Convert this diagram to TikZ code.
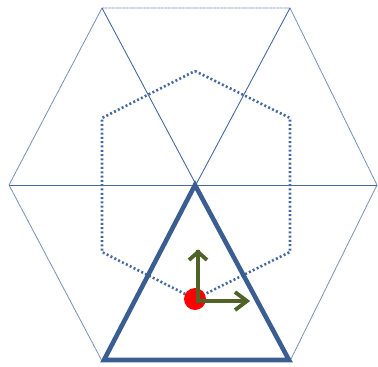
\documentclass[tikz,border=0pt]{standalone}
\usetikzlibrary{arrows.meta}
\definecolor{hexblue}{RGB}{70,105,160}
\definecolor{triblue}{RGB}{59,94,146}
\definecolor{olive}{RGB}{79,98,40}
\tikzset{
  thinline/.style={hexblue, line width=0.9pt},
  outerhex/.style={hexblue!75, line width=0.9pt, dash pattern=on 1pt off 0.4pt},
  innerhex/.style={hexblue, line width=2.6pt, dash pattern=on 2pt off 2.3pt},
  thicktri/.style={triblue, line width=4.6pt, line join=miter},
  axisline/.style={olive, line width=3.8pt},
  axishead/.style={olive, line width=3.8pt, line join=miter, miter limit=10}
}
\begin{document}
\begin{tikzpicture}[x=1pt,y=-1pt]
\useasboundingbox (0,0) rectangle (378,367);
% outer hexagon vertices
\coordinate (A) at (102,8);
\coordinate (B) at (290,8);
\coordinate (C) at (377,185);
\coordinate (D) at (290,361);
\coordinate (E) at (102,361);
\coordinate (F) at (9,185);
\coordinate (O) at (195,185);
% inner hexagon
\coordinate (i1) at (195,71);
\coordinate (i2) at (290,118);
\coordinate (i3) at (290,252);
\coordinate (i4) at (195,299);
\coordinate (i5) at (102,252);
\coordinate (i6) at (102,118);
\draw[outerhex] (A) -- (B) -- (C) -- (D) -- (E) -- (F) -- cycle;
\draw[thinline] (A) -- (D);
\draw[thinline] (B) -- (E);
\draw[thinline] (F) -- (C);
\draw[innerhex] (i1) -- (i2) -- (i3) -- (i4) -- (i5) -- (i6) -- cycle;
\draw[thicktri] (O) -- (104,360) -- (289,360) -- cycle;
% origin
\coordinate (P) at (195,299);
\fill[red] (P) circle[radius=11];
\coordinate (Q) at (198,301);
\coordinate (Qu) at (198,250);
\coordinate (Qr) at (245,301);
\draw[axisline] ([yshift=1.9]Q) -- (Qu);
\draw[axisline] ([xshift=-1.9]Q) -- (Qr);
\draw[axishead] ([shift={(-9,10)}]Qu) -- ([yshift=-2]Qu) -- ([shift={(9,10)}]Qu);
\draw[axishead] ([shift={(-10,-9)}]Qr) -- ([xshift=2]Qr) -- ([shift={(-10,9)}]Qr);
\end{tikzpicture}
\end{document}
